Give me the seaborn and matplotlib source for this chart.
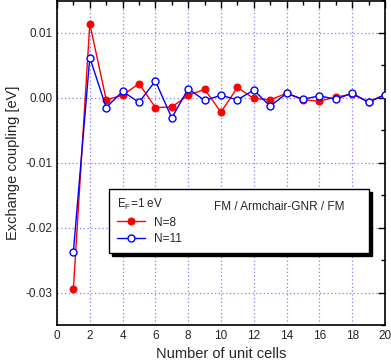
import pandas as pd
import matplotlib
matplotlib.use('Agg')
import matplotlib.pyplot as plt
import seaborn as sns
from matplotlib.ticker import MultipleLocator, FormatStrFormatter

# datos
celdas = list(range(1, 21))
j_n8 = [-0.0294, 0.0114, -0.0003, 0.0004, 0.0022, -0.0015, -0.0014, 0.0004, 0.0013, -0.0022,
        0.0016, -0.0001, -0.0003, 0.0007, -0.0003, -0.0005, 0.0001, 0.0006, -0.0006, 0.0005]
j_n11 = [-0.0237, 0.0062, -0.0015, 0.0010, -0.0007, 0.0026, -0.0031, 0.0014, -0.0004, 0.0004,
         -0.0003, 0.0012, -0.0013, 0.0007, -0.0002, 0.0003, -0.0002, 0.0007, -0.0007, 0.0005]

df = pd.DataFrame({'celdas': celdas, 'N=8': j_n8, 'N=11': j_n11})

sns.set_style('white')
plt.rcParams['font.family'] = ['Liberation Sans', 'DejaVu Sans']
plt.rcParams['axes.unicode_minus'] = False
plt.rcParams['mathtext.fontset'] = 'custom'
plt.rcParams['mathtext.rm'] = 'Liberation Sans'
plt.rcParams['mathtext.it'] = 'Liberation Sans'

fig = plt.figure(figsize=(3.91, 3.64), dpi=100)
ax = fig.add_axes([57 / 391, 1 - 325 / 364, 328 / 391, 324.5 / 364])

sns.lineplot(data=df, x='celdas', y='N=8', ax=ax, color='#ff0000', marker='o',
             markersize=5, markerfacecolor='#ff0000', markeredgecolor='#ff0000',
             linewidth=1.0, label='N=8', zorder=3)
sns.lineplot(data=df, x='celdas', y='N=11', ax=ax, color='#0000ff', marker='o',
             markersize=5, markerfacecolor='white', markeredgecolor='#0000ff',
             markeredgewidth=1.0, linewidth=1.0, label='N=11', zorder=4)

ax.set_xlim(0, 20)
ax.set_ylim(-0.035, 0.015)
ax.xaxis.set_major_locator(MultipleLocator(2))
ax.xaxis.set_minor_locator(MultipleLocator(1))
ax.yaxis.set_major_locator(MultipleLocator(0.01))
ax.yaxis.set_minor_locator(MultipleLocator(0.005))
ax.yaxis.set_major_formatter(FormatStrFormatter('%.2f'))
ax.tick_params(which='both', direction='in', top=True, right=True, labelsize=8.5,
               color='black', width=1)
ax.tick_params(which='major', length=5)
ax.tick_params(which='minor', length=3)
for s in ax.spines.values():
    s.set_color('black')
    s.set_linewidth(1.2)
ax.grid(True, which='major', color='#8080ff', linestyle=(0, (1, 2)), linewidth=0.9)
ax.set_axisbelow(True)

ax.set_xlabel('Number of unit cells', fontsize=10.5, labelpad=4)
ax.set_ylabel('Exchange coupling [eV]', fontsize=10.5, labelpad=4)

leg = ax.legend(loc='lower left', bbox_to_anchor=(0.159, 0.222, 0.792, 0.187),
                mode='expand', title='E$_F$=1 eV', alignment='left', fontsize=8.5,
                title_fontsize=8.5, handlelength=2.3, frameon=True, fancybox=False,
                shadow={'color': 'black', 'alpha': 1}, borderaxespad=0,
                labelspacing=0.35, borderpad=0.7)
leg.get_frame().set_edgecolor('black')
leg.get_frame().set_linewidth(1.0)
leg.set_zorder(10)
ax.text(0.875, 0.365, 'FM / Armchair-GNR / FM', transform=ax.transAxes,
        ha='right', va='center', fontsize=8.5, zorder=11)

plt.savefig('out.png', dpi=100)
plt.close()
